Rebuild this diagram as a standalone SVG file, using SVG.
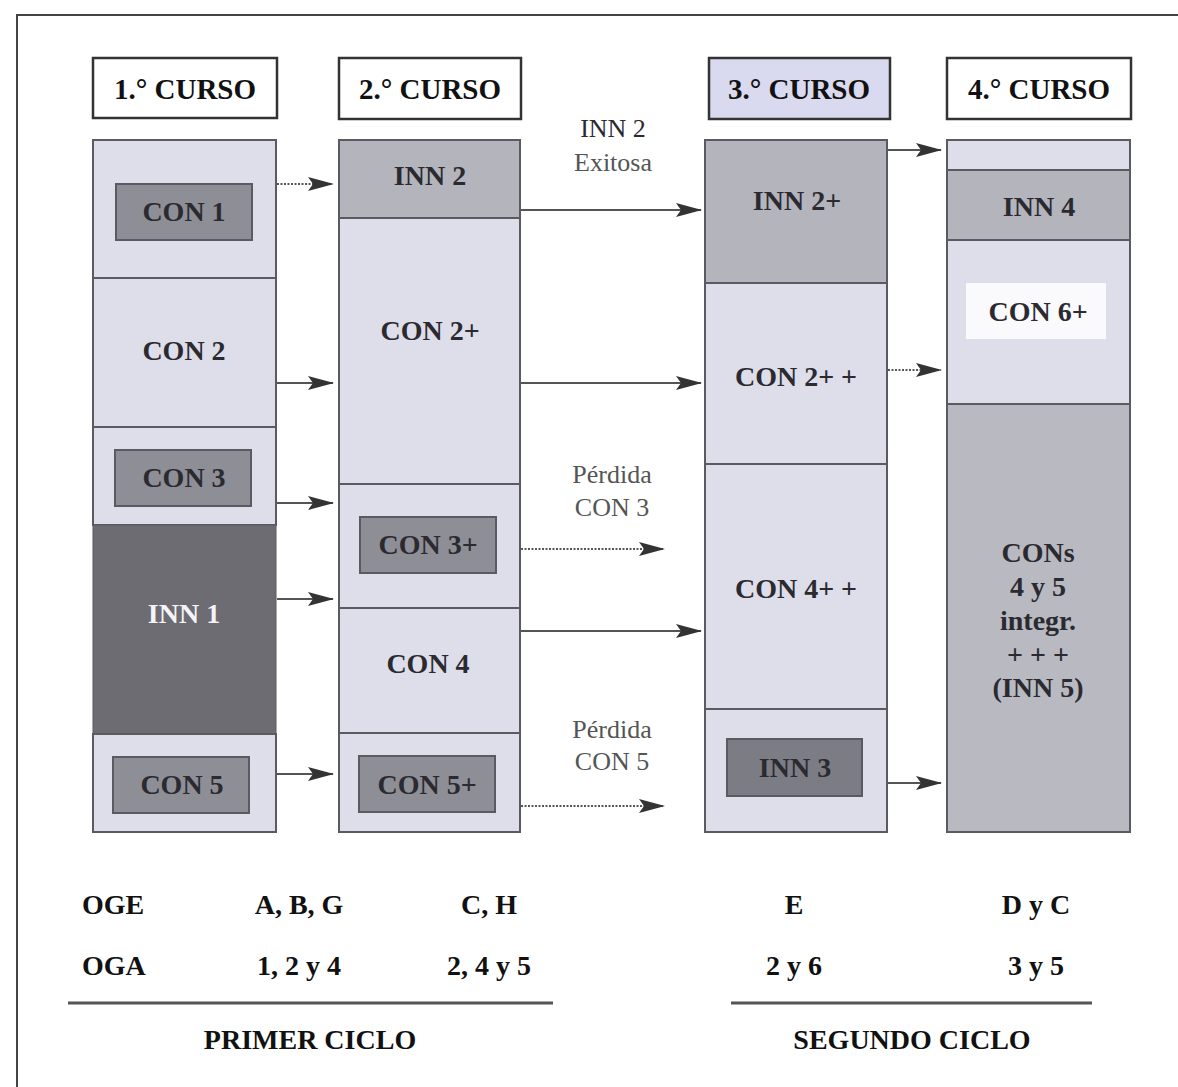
<svg xmlns="http://www.w3.org/2000/svg" width="1178" height="1087" viewBox="0 0 1178 1087">
<defs>
<style>
.t{font-family:"Liberation Serif","Times New Roman",serif;font-weight:bold;font-size:28px;fill:#2a2a30;text-anchor:middle}
.h{font-size:29px;fill:#111}
.w{fill:#f4f4f8}
.r{font-family:"Liberation Serif","Times New Roman",serif;font-size:26px;fill:#555;text-anchor:middle}
.light{fill:#dedeea;stroke:#5a5a60;stroke-width:2}
.mid{fill:#b4b4bc;stroke:#5a5a60;stroke-width:2}
.box{fill:#8e8e96;stroke:#5a5a60;stroke-width:2}
.dark{fill:#6c6c72;stroke:#5a5a60;stroke-width:1}
.hdr{fill:#fff;stroke:#333;stroke-width:2.5}
.ln{stroke:#555;stroke-width:2;fill:none}
.dot{stroke:#555;stroke-width:2;fill:none;stroke-dasharray:2 1.5}
.rule{stroke:#555;stroke-width:3}
</style>
<marker id="ah" markerUnits="userSpaceOnUse" markerWidth="26" markerHeight="14" refX="25" refY="7" orient="auto">
<path d="M0,0 L26,7 L0,14 L5,7 Z" fill="#333"/>
</marker>
</defs>
<rect width="1178" height="1087" fill="#fff"/>
<path d="M17,1087 L17,15 L1178,15" fill="none" stroke="#444" stroke-width="2"/>

<g id="headers">
<g id="h1"><rect class="hdr" x="93" y="58" width="184" height="60"/><text class="t h" x="185" y="99">1.° CURSO</text></g>
<g id="h2"><rect class="hdr" x="339" y="58" width="182" height="61"/><text class="t h" x="430" y="99">2.° CURSO</text></g>
<g id="h3"><rect class="hdr" x="709" y="58" width="181" height="61" style="fill:#d9d9ef"/><text class="t h" x="799" y="99">3.° CURSO</text></g>
<g id="h4"><rect class="hdr" x="947" y="58" width="184" height="61"/><text class="t h" x="1039" y="99">4.° CURSO</text></g>
</g>

<g id="col1">
<rect class="light" x="93" y="140" width="183" height="138"/>
<g id="con1"><rect class="box" x="116" y="184" width="136" height="56"/><text class="t" x="184" y="221">CON 1</text></g>
<g id="con2"><rect class="light" x="93" y="278" width="183" height="149"/><text class="t" x="184" y="360">CON 2</text></g>
<rect class="light" x="93" y="427" width="183" height="98"/>
<g id="con3"><rect class="box" x="115" y="450" width="136" height="56"/><text class="t" x="184" y="487">CON 3</text></g>
<g id="inn1"><rect class="dark" x="93" y="525" width="183" height="209"/><text class="t w" x="184" y="623">INN 1</text></g>
<rect class="light" x="93" y="734" width="183" height="98"/>
<g id="con5"><rect class="box" x="113" y="757" width="136" height="56"/><text class="t" x="182" y="794">CON 5</text></g>
</g>

<g id="col2">
<g id="inn2"><rect class="mid" x="339" y="140" width="181" height="78"/><text class="t" x="430" y="185">INN 2</text></g>
<g id="con2p"><rect class="light" x="339" y="218" width="181" height="266"/><text class="t" x="430" y="340">CON 2+</text></g>
<rect class="light" x="339" y="484" width="181" height="124"/>
<g id="con3p"><rect class="box" x="360" y="517" width="136" height="56"/><text class="t" x="428" y="554">CON 3+</text></g>
<g id="con4"><rect class="light" x="339" y="608" width="181" height="125"/><text class="t" x="428" y="673">CON 4</text></g>
<rect class="light" x="339" y="733" width="181" height="99"/>
<g id="con5p"><rect class="box" x="359" y="756" width="136" height="56"/><text class="t" x="427" y="794">CON 5+</text></g>
</g>

<g id="col3">
<g id="inn2pp"><rect class="mid" x="705" y="140" width="182" height="143"/><text class="t" x="797" y="210">INN 2+</text></g>
<g id="con2pp"><rect class="light" x="705" y="283" width="182" height="181"/><text class="t" x="796" y="386">CON 2+ +</text></g>
<g id="con4pp"><rect class="light" x="705" y="464" width="182" height="245"/><text class="t" x="796" y="598">CON 4+ +</text></g>
<rect class="light" x="705" y="709" width="182" height="123"/>
<g id="inn3"><rect class="box" x="727" y="739" width="135" height="57" style="fill:#7c7c84"/><text class="t" x="795" y="777">INN 3</text></g>
</g>

<g id="col4">
<rect class="light" x="947" y="140" width="183" height="30"/>
<g id="inn4"><rect class="mid" x="947" y="170" width="183" height="70"/><text class="t" x="1039" y="216">INN 4</text></g>
<rect class="light" x="947" y="240" width="183" height="164"/>
<g id="con6p"><rect x="966" y="283" width="140" height="56" fill="#fafafc"/><text class="t" x="1038" y="321">CON 6+</text></g>
<g id="cons45"><rect class="mid" x="947" y="404" width="183" height="428" style="fill:#b9b9c1"/>
<text class="t" x="1038" y="562">CONs</text>
<text class="t" x="1038" y="596">4 y 5</text>
<text class="t" x="1038" y="630">integr.</text>
<text class="t" x="1038" y="664">+ + +</text>
<text class="t" x="1038" y="697">(INN 5)</text></g>
</g>

<g id="connectors">
<line class="dot" x1="277" y1="184" x2="333" y2="184" marker-end="url(#ah)"/>
<line class="ln" x1="277" y1="383" x2="333" y2="383" marker-end="url(#ah)"/>
<line class="ln" x1="277" y1="503" x2="333" y2="503" marker-end="url(#ah)"/>
<line class="ln" x1="277" y1="599" x2="333" y2="599" marker-end="url(#ah)"/>
<line class="ln" x1="276" y1="774" x2="333" y2="774" marker-end="url(#ah)"/>
<line class="ln" x1="521" y1="210" x2="701" y2="210" marker-end="url(#ah)"/>
<line class="ln" x1="521" y1="383" x2="701" y2="383" marker-end="url(#ah)"/>
<line class="dot" x1="521" y1="549" x2="664" y2="549" marker-end="url(#ah)"/>
<line class="ln" x1="521" y1="631" x2="701" y2="631" marker-end="url(#ah)"/>
<line class="dot" x1="521" y1="806" x2="664" y2="806" marker-end="url(#ah)"/>
<line class="ln" x1="888" y1="150" x2="941" y2="150" marker-end="url(#ah)"/>
<line class="dot" x1="888" y1="370" x2="941" y2="370" marker-end="url(#ah)"/>
<line class="ln" x1="888" y1="783" x2="941" y2="783" marker-end="url(#ah)"/>
<text class="r" x="613" y="137" style="fill:#2a2a30">INN 2</text>
<text class="r" x="613" y="171">Exitosa</text>
<text class="r" x="612" y="483">Pérdida</text>
<text class="r" x="612" y="516">CON 3</text>
<text class="r" x="612" y="738">Pérdida</text>
<text class="r" x="612" y="770">CON 5</text>
</g>

<g id="legend">
<text class="t" x="82" y="914" style="text-anchor:start;fill:#111">OGE</text>
<text class="t" x="299" y="914" style="fill:#111">A, B, G</text>
<text class="t" x="489" y="914" style="fill:#111">C, H</text>
<text class="t" x="794" y="914" style="fill:#111">E</text>
<text class="t" x="1036" y="914" style="fill:#111">D y C</text>
<text class="t" x="82" y="975" style="text-anchor:start;fill:#111">OGA</text>
<text class="t" x="299" y="975" style="fill:#111">1, 2 y 4</text>
<text class="t" x="489" y="975" style="fill:#111">2, 4 y 5</text>
<text class="t" x="794" y="975" style="fill:#111">2 y 6</text>
<text class="t" x="1036" y="975" style="fill:#111">3 y 5</text>
<line class="rule" x1="68" y1="1003" x2="553" y2="1003"/>
<line class="rule" x1="731" y1="1003" x2="1092" y2="1003"/>
<text class="t" x="310" y="1049" style="fill:#111">PRIMER CICLO</text>
<text class="t" x="912" y="1049" style="fill:#111">SEGUNDO CICLO</text>
</g>
</svg>
